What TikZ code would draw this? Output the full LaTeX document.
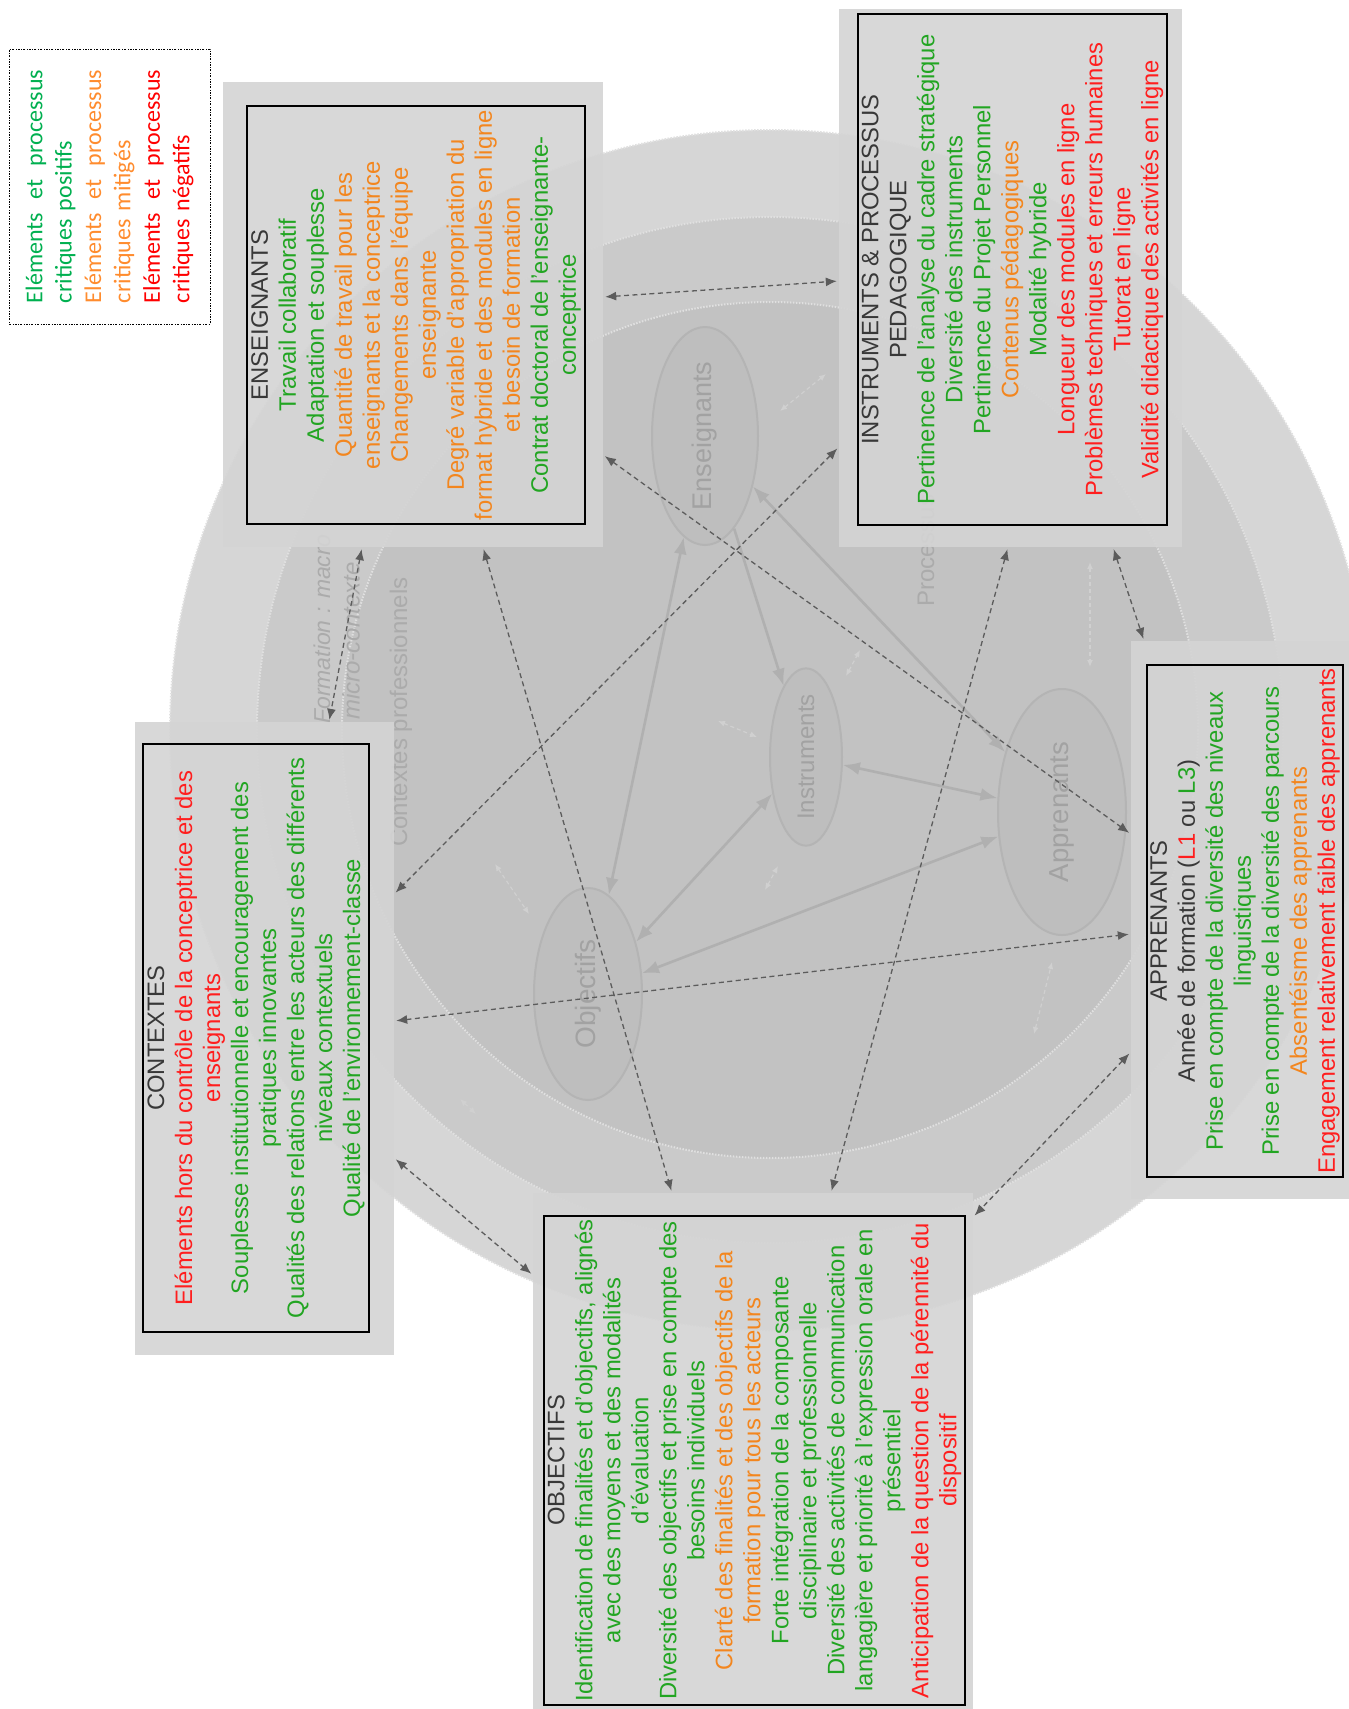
\documentclass[tikz,border=0pt]{standalone}
\usepackage{fontspec}
\setmainfont{Liberation Sans}
\newfontfamily\calib{Carlito}
\usetikzlibrary{arrows.meta,shapes.geometric}
\definecolor{tgreen}{HTML}{22A522}
\definecolor{torange}{HTML}{F3861E}
\definecolor{tred}{HTML}{FF1E1E}
\definecolor{tdark}{HTML}{383838}
\definecolor{lgreen}{HTML}{00B050}
\definecolor{lorange}{HTML}{FF8C2E}
\definecolor{lred}{HTML}{FF0000}
\definecolor{ringA}{HTML}{D6D6D6}
\definecolor{ringB}{HTML}{CACACA}
\definecolor{ringC}{HTML}{C2C2C2}
\definecolor{ringe}{HTML}{E0E0E0}
\definecolor{boxfill}{HTML}{D4D4D4}
\definecolor{ellline}{HTML}{B4B4B4}
\definecolor{ellfill}{HTML}{BEBEBE}
\definecolor{elltext}{HTML}{A2A2A2}
\definecolor{solc}{HTML}{B0B0B0}
\definecolor{dashc}{HTML}{5C5C5C}
\definecolor{faintc}{HTML}{D0D0D0}
\definecolor{bgtextc}{HTML}{ABABAB}
\newcommand{\legline}[1]{\leavevmode\hbox to 233pt{#1}}
\begin{document}
\begin{tikzpicture}[x=1pt,y=-1pt,
  outerbox/.style={rectangle,fill=boxfill,fill opacity=0.9,draw=none,inner sep=0pt},
  innerbox/.style={rectangle,draw=black,line width=1.6pt,inner sep=0pt},
  boxtext/.style={rotate=90,align=center,inner sep=0pt,font=\fontsize{23.8}{28}\selectfont},
  ell/.style={ellipse,draw=ellline,line width=2pt,fill=ellfill,inner sep=0pt,text=elltext},
  solidone/.style={draw=solc,line width=2.6pt,-{Latex[length=17pt,width=13pt]}},
  solidtwo/.style={draw=solc,line width=2.6pt,{Latex[length=17pt,width=13pt]}-{Latex[length=17pt,width=13pt]}},
  dasharrow/.style={draw=dashc,line width=1.3pt,dash pattern=on 5pt off 3.5pt,{Latex[length=11pt,width=9pt]}-{Latex[length=11pt,width=9pt]},shorten <=2pt,shorten >=2pt},
  faintarrow/.style={draw=faintc,line width=1.2pt,dash pattern=on 4pt off 3pt,{Latex[length=7pt,width=6pt]}-{Latex[length=7pt,width=6pt]}},
  bgtext/.style={rotate=90,inner sep=0pt,text=bgtextc,font=\fontsize{24}{28}\selectfont},
  ringedge/.style={draw=ringe,line width=2pt,dash pattern=on 1.5pt off 1.5pt}
]
\useasboundingbox (0,0) rectangle (1349,1709);
\fill[white] (0,0) rectangle (1349,1709);
\clip (0,0) rectangle (1349,1709);

% background circles
\fill[ringA] (770,730) circle[radius=600pt];
\draw[ringedge] (770,730) circle[radius=600pt];
\fill[ringB] (770,730) circle[radius=513pt];
\draw[ringedge] (770,730) circle[radius=513pt];
\fill[ringC] (770,730) circle[radius=428pt];
\draw[ringedge] (770,730) circle[radius=428pt];

% faint background texts
\node[bgtext,anchor=west,font=\itshape\fontsize{23}{28}\selectfont] (bgf) at (322,724) {Formation : macro};
\node[bgtext,anchor=west,font=\itshape\fontsize{24}{28}\selectfont] (bgm) at (351,720) {micro-contexte};
\node[bgtext] (bgc) at (401,712) {Contextes professionnels};
\node[bgtext,anchor=west] (bgp) at (926,607) {Processus};

% faint arrows
\coordinate (f1a) at (780,411); \coordinate (f1b) at (826,374);
\coordinate (f2a) at (846,676); \coordinate (f2b) at (860,650);
\coordinate (f3a) at (718,721); \coordinate (f3b) at (757,737);
\coordinate (f4a) at (765,890); \coordinate (f4b) at (778,866);
\coordinate (f5a) at (495,864); \coordinate (f5b) at (529,914);
\coordinate (f6a) at (460,1099); \coordinate (f6b) at (476,1114);
\coordinate (f7a) at (1034,1034); \coordinate (f7b) at (1052,962);
\coordinate (f8a) at (1090,562); \coordinate (f8b) at (1090,667);
\foreach \i in {1,...,8} {\draw[faintarrow] (f\i a) -- (f\i b);}

% inner ellipses
\node[ell,minimum width=106pt,minimum height=218pt,font=\fontsize{27}{30}\selectfont] (ens) at (705,436) {\rotatebox{90}{Enseignants}};
\node[ell,minimum width=72pt,minimum height=164pt,font=\fontsize{24}{28}\selectfont] (ins) at (806,757) {\rotatebox{90}{Instruments}};
\node[ell,minimum width=128pt,minimum height=246pt,font=\fontsize{27.5}{30}\selectfont] (app) at (1062,812) {\rotatebox{90}{Apprenants}};
\node[ell,minimum width=108pt,minimum height=212pt,font=\fontsize{28}{30}\selectfont] (obj) at (588,994) {\rotatebox{90}{Objectifs}};

% solid arrows between ellipses
\draw[solidtwo] (ens) -- (obj);
\draw[solidone] (ens) -- (ins);
\draw[solidtwo] (ens) -- (app);
\draw[solidtwo] (ins) -- (app);
\draw[solidtwo] (ins) -- (obj);
\draw[solidtwo] (obj) -- (app);

% boxes
\node[outerbox,minimum width=380pt,minimum height=465pt] (ensbox) at (413,314.5) {};
\node[innerbox,minimum width=338pt,minimum height=418pt] (ensin) at (416,315) {};
\node[outerbox,minimum width=343pt,minimum height=538pt] (insbox) at (1010.5,278) {};
\node[innerbox,minimum width=309pt,minimum height=511pt] (insin) at (1012.5,269.5) {};
\node[outerbox,minimum width=229pt,minimum height=558pt] (appbox) at (1245.5,920) {};
\node[innerbox,minimum width=196pt,minimum height=512pt] (appin) at (1245,921) {};
\node[outerbox,minimum width=259pt,minimum height=633pt] (conbox) at (264.5,1038.5) {};
\node[innerbox,minimum width=226pt,minimum height=588pt] (conin) at (256,1038) {};
\node[outerbox,minimum width=440pt,minimum height=530pt] (objbox) at (753,1458) {};
\node[innerbox,minimum width=421pt,minimum height=489pt] (objin) at (754.5,1460.5) {};

% box texts
\node[boxtext] (enstx) at (ensin.center) {%
{\color{tdark}ENSEIGNANTS}\\
{\color{tgreen}Travail collaboratif}\\
{\color{tgreen}Adaptation et souplesse}\\
{\color{torange}Quantité de travail pour les}\\
{\color{torange}enseignants et la conceptrice}\\
{\color{torange}Changements dans l'équipe}\\
{\color{torange}enseignante}\\
{\color{torange}Degré variable d'appropriation du}\\
{\color{torange}format hybride et des modules en ligne}\\
{\color{torange}et besoin de formation}\\
{\color{tgreen}Contrat doctoral de l'enseignante-}\\
{\color{tgreen}conceptrice}};

\node[boxtext] (instx) at (insin.center) {%
{\color{tdark}INSTRUMENTS \& PROCESSUS}\\
{\color{tdark}PEDAGOGIQUE}\\
{\color{tgreen}Pertinence de l'analyse du cadre stratégique}\\
{\color{tgreen}Diversité des instruments}\\
{\color{tgreen}Pertinence du Projet Personnel}\\
{\color{torange}Contenus pédagogiques}\\
{\color{tgreen}Modalité hybride}\\
{\color{tred}Longueur des modules en ligne}\\
{\color{tred}Problèmes techniques et erreurs humaines}\\
{\color{tred}Tutorat en ligne}\\
{\color{tred}Validité didactique des activités en ligne}};

\node[boxtext] (apptx) at (appin.center) {%
{\color{tdark}APPRENANTS}\\
\textcolor{tdark}{Année de formation (}\textcolor{tred}{L1} \textcolor{tdark}{ou} \textcolor{tgreen}{L3}\textcolor{tdark}{)}\\
{\color{tgreen}Prise en compte de la diversité des niveaux}\\
{\color{tgreen}linguistiques}\\
{\color{tgreen}Prise en compte de la diversité des parcours}\\
{\color{torange}Absentéisme des apprenants}\\
{\color{tred}Engagement relativement faible des apprenants}};

\node[boxtext] (contx) at (conin.center) {%
{\color{tdark}CONTEXTES}\\
{\color{tred}Eléments hors du contrôle de la conceptrice et des}\\
{\color{tred}enseignants}\\
{\color{tgreen}Souplesse institutionnelle et encouragement des}\\
{\color{tgreen}pratiques innovantes}\\
{\color{tgreen}Qualités des relations entre les acteurs des différents}\\
{\color{tgreen}niveaux contextuels}\\
{\color{tgreen}Qualité de l'environnement-classe}};

\node[boxtext] (objtx) at (objin.center) {%
{\color{tdark}OBJECTIFS}\\
{\color{tgreen}Identification de finalités et d'objectifs, alignés}\\
{\color{tgreen}avec des moyens et des modalités}\\
{\color{tgreen}d'évaluation}\\
{\color{tgreen}Diversité des objectifs et prise en compte des}\\
{\color{tgreen}besoins individuels}\\
{\color{torange}Clarté des finalités et des objectifs de la}\\
{\color{torange}formation pour tous les acteurs}\\
{\color{tgreen}Forte intégration de la composante}\\
{\color{tgreen}disciplinaire et professionnelle}\\
{\color{tgreen}Diversité des activités de communication}\\
{\color{tgreen}langagière et priorité à l'expression orale en}\\
{\color{tgreen}présentiel}\\
{\color{tred}Anticipation de la question de la pérennité du}\\
{\color{tred}dispositif}};

% dashed connectors between boxes
\draw[dasharrow] (ensbox.east |- 0,297) -- (insbox.west |- 0,281);
\draw[dasharrow] (ensbox.east |- 0,455) -- (appbox.west |- 0,834);
\draw[dasharrow] (insbox.west |- 0,447) -- (conbox.east |- 0,894);
\draw[dasharrow] (ensbox.south -| 483,0) -- (objbox.north -| 672,0);
\draw[dasharrow] (insbox.south -| 1008,0) -- (objbox.north -| 831,0);
\draw[dasharrow] (insbox.south -| 1113,0) -- (appbox.north -| 1144,0);
\draw[dasharrow] (conbox.east |- 0,1021) -- (appbox.west |- 0,934);
\draw[dasharrow] (conbox.east |- 0,1158) -- (objbox.west |- 0,1275);
\draw[dasharrow] (appbox.west |- 0,1052) -- (objbox.east |- 0,1217);
\draw[dasharrow] (ensbox.south -| 362,0) -- (conbox.north -| 329,0);

% legend
\node[draw=black,line width=1pt,dash pattern=on 2pt off 1.5pt on 0.6pt off 1.5pt,fill=white,minimum width=201pt,minimum height=275pt,inner sep=0pt] (legbox) at (109.5,186.5) {};
\node[rotate=90,text width=233pt,align=left,inner sep=0pt,font=\calib\fontsize{24}{29.4}\selectfont] (legtx) at (legbox.center) {%
{\color{lgreen}\legline{Eléments\hfill et\hfill processus}}\\
{\color{lgreen}critiques positifs}\\
{\color{lorange}\legline{Eléments\hfill et\hfill processus}}\\
{\color{lorange}critiques mitigés}\\
{\color{lred}\legline{Eléments\hfill et\hfill processus}}\\
{\color{lred}critiques négatifs}};
\end{tikzpicture}
\end{document}
